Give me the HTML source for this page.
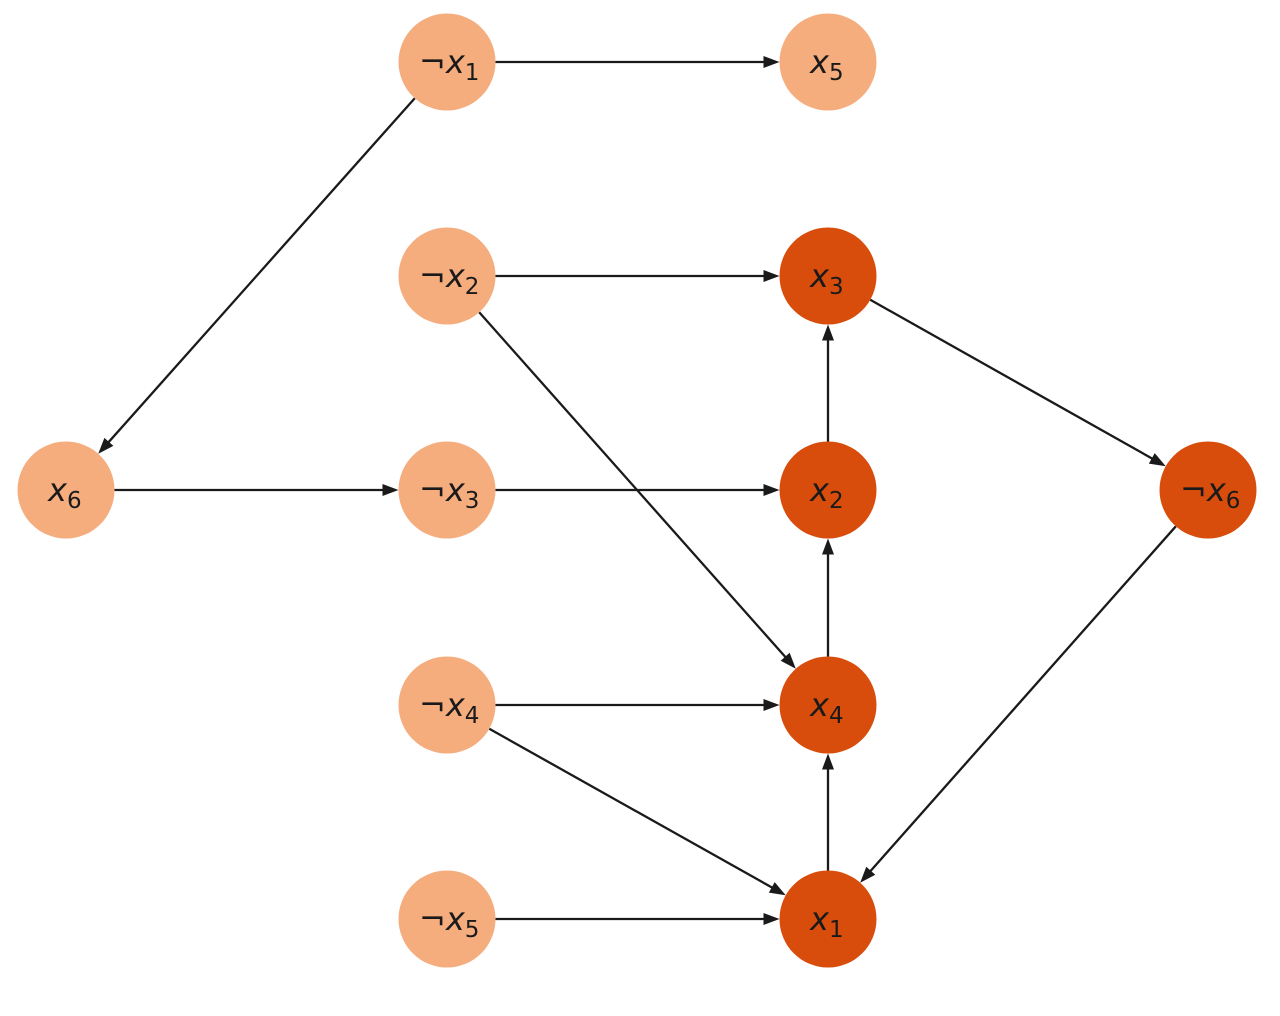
<!DOCTYPE html>
<html><head><meta charset="utf-8"><style>
html,body{margin:0;padding:0;background:#fff;width:1280px;height:1016px;overflow:hidden}
svg text{font-family:"DejaVu Sans","Liberation Sans",sans-serif;fill:#1a1a1a}
</style></head><body>
<svg id="s" width="1280" height="1016" xmlns="http://www.w3.org/2000/svg"></svg>
<script>
const N={nx1:[447,62,'¬x','1',0],x5:[828,62,'x','5',0],nx2:[447,276,'¬x','2',0],x3:[828,276,'x','3',1],
x6:[66,490,'x','6',0],nx3:[447,490,'¬x','3',0],x2:[828,490,'x','2',1],nx6:[1208,490,'¬x','6',1],
nx4:[447,705,'¬x','4',0],x4:[828,705,'x','4',1],nx5:[447,919,'¬x','5',0],x1:[828,919,'x','1',1]};
const E=[['nx1','x5'],['nx1','x6'],['nx2','x3'],['nx2','x4'],['x3','nx6'],['x6','nx3'],['nx3','x2'],['x2','x3'],['x4','x2'],['nx4','x4'],['nx4','x1'],['x1','x4'],['nx6','x1'],['nx5','x1']];
const R=48.5;let h='';
for(const[a,b]of E){const[x1,y1]=N[a],[x2,y2]=N[b];const dx=x2-x1,dy=y2-y1,L=Math.hypot(dx,dy),ux=dx/L,uy=dy/L;
const sx=x1+ux*R,sy=y1+uy*R,ex=x2-ux*R,ey=y2-uy*R;const bx=ex-ux*16,by=ey-uy*16;
h+=`<line x1="${sx}" y1="${sy}" x2="${bx+ux*2}" y2="${by+uy*2}" stroke="#1a1a1a" stroke-width="2.3"/>`;
h+=`<polygon points="${ex},${ey} ${bx-uy*6},${by+ux*6} ${bx+uy*6},${by-ux*6}" fill="#1a1a1a"/>`;}
for(const k in N){const[x,y,t,s,d]=N[k];
h+=`<circle cx="${x}" cy="${y}" r="${R}" fill="${d?'#d94d0c':'#f5ad7e'}"/>`;
const w=t.length>1?56:36;
h+=`<text x="${x-w/2}" y="${y+11}" font-size="32">${t.length>1?'¬':''}<tspan font-style="italic">x</tspan><tspan font-size="23" dy="7">${s}</tspan></text>`;}
document.getElementById('s').innerHTML=h;
</script>
</body></html>
